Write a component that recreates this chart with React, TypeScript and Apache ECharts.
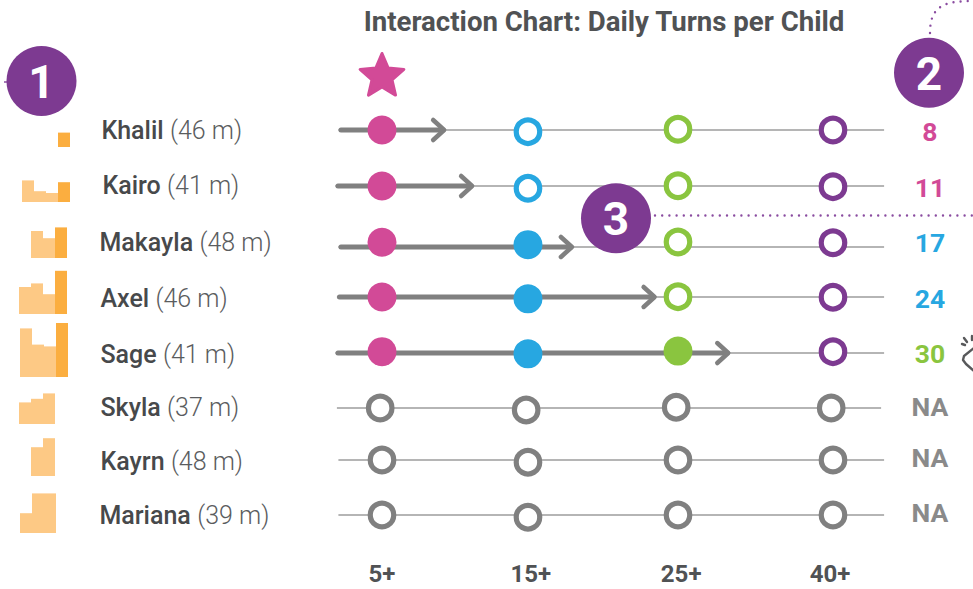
import React, { useEffect, useRef } from "react";
import * as echarts from "echarts";

// ---------- data ----------
const children = ["Khalil", "Kairo", "Makayla", "Axel", "Sage", "Skyla", "Kayrn", "Mariana"];
const agesInMonths = [46, 41, 48, 46, 41, 37, 48, 39];
const todayTurns: (number | null)[] = [8, 11, 17, 24, 30, null, null, null];
const priorDayTurns: (number | null)[][] = [
  [null, null, null],
  [12, 6, 5],
  [null, 15, 11],
  [15, 17, 11],
  [27, 18, 17],
  [12, 14, 17],
  [null, 16, 21],
  [11, 22, 22],
];
const milestoneLabels = ["5+", "15+", "25+", "40+"];
const milestoneThresholds = [5, 15, 25, 40];
const dayNames = ["d1", "d2", "d3", "today"];

// ---------- layout (hand placement of the infographic, in stage/row units) ----------
const stageAt = [0, 0.971, 1.969, 3];
const stageLabelAt = [0, 0.99, 1.99, 2.98];
const rowShift = [0, 0, 0, 0, 0, -0.012, 0, 0];
const lineRow = [0, 1.018, 2.127, 3.036, 4.055, 5.055, 6, 7];
const dotRow = [
  [0, 0.03, -0.013, 0],
  [1.018, 1.06, 1.013, 1.03],
  [2.04, 2.085, 2.036, 2.05],
  [3.036, 3.07, 3.03, 3.04],
  [4.03, 4.07, 4.02, 4.03],
  [5.055, 5.09, 5.04, 5.055],
  [6, 6.04, 6, 6],
  [7, 7.04, 7, 7],
];
const lineStart = [-0.29, -0.31, -0.29, -0.3, -0.31, -0.3, -0.29, -0.29];
const capInset = 0.017;
const lineEnd = [3.34, 3.34, 3.34, 3.34, 3.34, 3.32, 3.34, 3.34];
const arrowTip = [0.42, 0.606, 1.27, 1.82, 2.31, null, null, null];
const nameAt = [-1.87, -1.863, -1.883, -1.876, -1.876, -1.876, -1.876, -1.883];
const nameRow = [0, 1, 2.05, 3.055, 4.09, 5.04, 6.02, 7];
const valueAt = 3.645;
const valueRow = [0.02, 1.05, 2.05, 3.07, 4.07, 5.03, 5.96, 6.95];
const sparkLeft = [22, 22, 19, 19, 20, 19, 19, 20];
const sparkBase = [147, 202, 258, 314, 377, 424, 476, 533];

const PINK = "#D24A97";
const BLUE = "#27A7E1";
const GREEN = "#8AC53F";
const PURPLE = "#7D3A91";
const GREY = "#808080";
const TEXT = "#505254";
const stageColors = [PINK, BLUE, GREEN, PURPLE];
const FONT = "Roboto, sans-serif";

const reachedStage = (t: number | null) =>
  t == null ? -1 : milestoneThresholds.filter((m) => t >= m).length - 1;

function starPoints(cx: number, cy: number, R: number, r: number) {
  const pts: number[][] = [];
  for (let i = 0; i < 10; i++) {
    const rad = i % 2 === 0 ? R : r;
    const a = -Math.PI / 2 + (i * Math.PI) / 5;
    pts.push([cx + rad * Math.cos(a), cy + rad * Math.sin(a)]);
  }
  return pts;
}

function badge(n: string, cx: number, cy: number) {
  return {
    type: "group",
    z: 100,
    children: [
      { type: "circle", shape: { cx, cy, r: 35 }, style: { fill: PURPLE }, z: 100 },
      {
        type: "text",
        x: cx,
        y: cy + 1,
        z: 101,
        style: {
          text: n,
          fill: "#fff",
          font: `700 46px ${FONT}`,
          textAlign: "center",
          textVerticalAlign: "middle",
        },
      },
    ],
  };
}

function buildOption() {
  const rows = children.map((_, i) => i);

  const mainX = {
    type: "value",
    gridIndex: 0,
    min: -2,
    max: 3.9,
    axisLine: { show: false },
    axisTick: { show: false },
    splitLine: { show: false },
    axisLabel: {
      show: true,
      customValues: stageLabelAt,
      margin: 19,
      color: TEXT,
      fontFamily: FONT,
      fontWeight: 700,
      fontSize: 24,
      formatter: (v: number) => milestoneLabels[stageLabelAt.indexOf(v)] ?? "",
    },
  };
  const mainY = {
    type: "value",
    gridIndex: 0,
    inverse: true,
    min: -1,
    max: 7.5,
    show: false,
  };

  const grids: any[] = [{ left: 81.34, width: 886.95, top: 75, height: 467.5 }];
  const xAxes: any[] = [mainX];
  const yAxes: any[] = [mainY];
  const sparkSeries: any[] = [];
  rows.forEach((i) => {
    grids.push({ left: sparkLeft[i], width: 48, top: sparkBase[i] - 54, height: 54 });
    xAxes.push({ type: "category", gridIndex: i + 1, data: dayNames, show: false });
    yAxes.push({ type: "value", gridIndex: i + 1, min: 0, max: 30, show: false });
    const vals = [...priorDayTurns[i], todayTurns[i]];
    sparkSeries.push({
      type: "bar",
      name: `${children[i]} daily turns`,
      xAxisIndex: i + 1,
      yAxisIndex: i + 1,
      barWidth: "100%",
      silent: true,
      data: vals.map((v, d) => ({
        value: v,
        itemStyle: { color: d === 3 ? "#FBAE40" : "#FDC985" },
      })),
    });
  });

  const track = {
    type: "custom",
    name: "track",
    coordinateSystem: "cartesian2d",
    xAxisIndex: 0,
    yAxisIndex: 0,
    silent: true,
    z: 2,
    renderItem: (_p: any, api: any) => {
      const a = api.coord([api.value(0), api.value(2)]);
      const b = api.coord([api.value(1), api.value(2)]);
      return {
        type: "line",
        shape: { x1: a[0], y1: a[1], x2: b[0], y2: b[1] },
        style: { stroke: "#B5B5B5", lineWidth: 2 },
      };
    },
    data: rows.map((i) => [lineStart[i], lineEnd[i], lineRow[i]]),
  };

  const progress = {
    type: "custom",
    name: "progress",
    coordinateSystem: "cartesian2d",
    xAxisIndex: 0,
    yAxisIndex: 0,
    silent: true,
    z: 3,
    renderItem: (_p: any, api: any) => {
      const a = api.coord([api.value(0), api.value(2)]);
      const b = api.coord([api.value(1), api.value(2)]);
      return {
        type: "group",
        children: [
          {
            type: "line",
            shape: { x1: a[0], y1: a[1], x2: b[0] - 2, y2: b[1] },
            style: { stroke: GREY, lineWidth: 5, lineCap: "round" },
          },
          {
            type: "polyline",
            shape: {
              points: [
                [b[0] - 12, b[1] - 10],
                [b[0] - 1, b[1]],
                [b[0] - 12, b[1] + 10],
              ],
            },
            style: { stroke: GREY, fill: "none", lineWidth: 4.5, lineCap: "round", lineJoin: "round" },
          },
        ],
      };
    },
    data: rows
      .filter((i) => arrowTip[i] != null)
      .map((i) => [lineStart[i] + capInset, arrowTip[i], lineRow[i]]),
  };

  const dots = {
    type: "scatter",
    name: "milestones",
    xAxisIndex: 0,
    yAxisIndex: 0,
    silent: true,
    z: 4,
    symbol: "circle",
    data: rows.flatMap((i) =>
      milestoneThresholds.map((m, s) => {
        const t = todayTurns[i];
        const color = t == null ? GREY : stageColors[s];
        const hit = t != null && t >= m;
        return {
          value: [stageAt[s] + rowShift[i], dotRow[i][s]],
          symbolSize: hit ? 29 : 23.5,
          itemStyle: hit
            ? { color, borderWidth: 0, opacity: 1 }
            : { color: "#fff", borderColor: color, borderWidth: 5.2, opacity: 1 },
        };
      }),
    ),
  };

  const names = {
    type: "scatter",
    name: "children",
    xAxisIndex: 0,
    yAxisIndex: 0,
    silent: true,
    symbolSize: 1,
    itemStyle: { color: "rgba(0,0,0,0)", opacity: 1 },
    z: 5,
    data: rows.map((i) => ({
      value: [nameAt[i], nameRow[i]],
      label: {
        show: true,
        position: "right",
        distance: 0,
        opacity: 1,
        formatter: `{n|${children[i]}} {a|(${agesInMonths[i]} m)}`,
        rich: {
          n: { fontFamily: FONT, fontWeight: 500, fontSize: 25, color: "#47494B" },
          a: { fontFamily: FONT, fontWeight: 300, fontSize: 25, color: "#5A5C5E", padding: [0, 0, 0, 3] },
        },
      },
    })),
  };

  const values = {
    type: "scatter",
    name: "turns",
    xAxisIndex: 0,
    yAxisIndex: 0,
    silent: true,
    symbolSize: 1,
    itemStyle: { color: "rgba(0,0,0,0)", opacity: 1 },
    z: 5,
    data: rows.map((i) => {
      const t = todayTurns[i];
      const st = reachedStage(t);
      return {
        value: [valueAt, valueRow[i]],
        label: {
          show: true,
          position: "inside",
          opacity: 1,
          formatter: t == null ? "NA" : String(t),
          fontFamily: FONT,
          fontWeight: 700,
          fontSize: 26.5,
          color: t == null ? "#8A8A8A" : stageColors[st],
        },
      };
    }),
  };

  const dotted = { stroke: "#8A4CA0", lineWidth: 2.4, lineDash: [0, 7.2], lineCap: "round", fill: "none" };
  const iconStroke = { stroke: "#58595B", lineWidth: 2.4, lineCap: "round", lineJoin: "round", fill: "none" };

  return {
    animation: false,
    backgroundColor: "#fff",
    title: {
      text: "Interaction Chart: Daily Turns per Child",
      left: 599,
      top: 2,
      textAlign: "center",
      textStyle: { fontFamily: FONT, fontWeight: 700, fontSize: 27.6, color: TEXT },
    },
    grid: grids,
    xAxis: xAxes,
    yAxis: yAxes,
    series: [...sparkSeries, track, progress, dots, names, values],
    graphic: [
      {
        type: "polygon",
        z: 50,
        shape: { points: starPoints(382, 76.5, 23, 10.5) },
        style: { fill: PINK, stroke: PINK, lineWidth: 3, lineJoin: "round" },
      },
      { type: "line", z: 50, shape: { x1: 4, y1: 82, x2: 8, y2: 82 }, style: { stroke: "#8A4CA0", lineWidth: 1.5 } },
      {
        type: "bezierCurve",
        z: 50,
        shape: { x1: 930, y1: 33, cpx1: 930, cpy1: 6, cpx2: 944, cpy2: 1, x2: 973, y2: 1 },
        style: dotted,
      },
      { type: "line", z: 50, shape: { x1: 655, y1: 215.5, x2: 973, y2: 215.5 }, style: dotted },
      badge("1", 41.5, 81),
      badge("2", 929, 72.7),
      badge("3", 616, 218.3),
      {
        type: "polyline",
        z: 50,
        shape: { points: [[974, 348], [964, 356], [963, 360], [966, 364], [974, 371]] },
        style: iconStroke,
      },
      { type: "line", z: 50, shape: { x1: 964, y1: 338, x2: 967, y2: 342 }, style: iconStroke },
      { type: "line", z: 50, shape: { x1: 972, y1: 336, x2: 972, y2: 340 }, style: iconStroke },
      { type: "line", z: 50, shape: { x1: 962, y1: 344, x2: 965, y2: 345 }, style: iconStroke },
    ],
  };
}

export default function App() {
  const ref = useRef<HTMLDivElement>(null);
  useEffect(() => {
    document.body.style.margin = "0";
    const chart = echarts.init(ref.current!, undefined, { renderer: "svg" });
    chart.setOption(buildOption() as any);
    return () => chart.dispose();
  }, []);
  return <div ref={ref} style={{ width: 973, height: 589 }} />;
}
